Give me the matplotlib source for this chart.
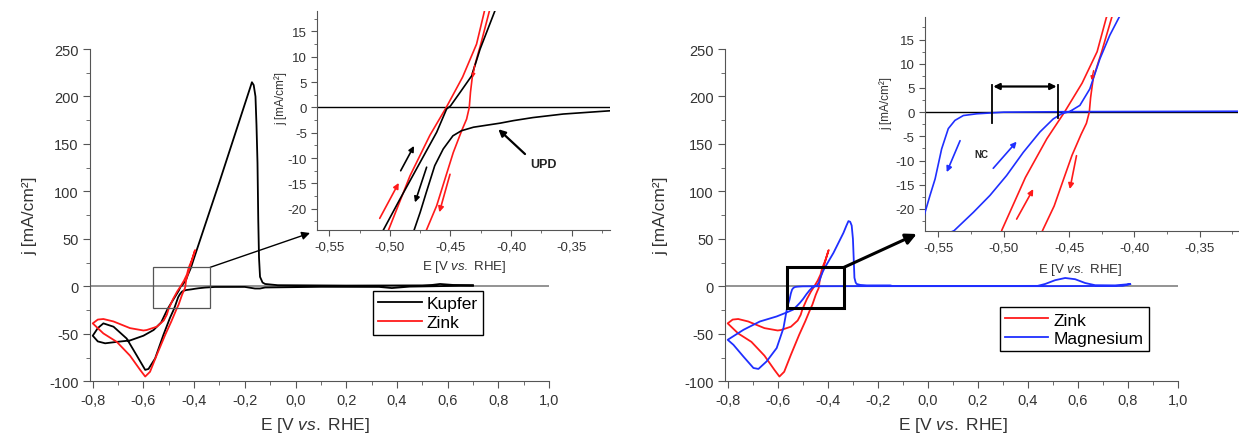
import matplotlib
matplotlib.use('Agg')
import matplotlib.pyplot as plt
from matplotlib.ticker import MultipleLocator, FuncFormatter
from matplotlib.patches import Rectangle

plt.rcParams['font.family'] = ['Liberation Sans', 'DejaVu Sans']
plt.rcParams['mathtext.fontset'] = 'custom'
plt.rcParams['mathtext.rm'] = 'Liberation Sans'
plt.rcParams['mathtext.it'] = 'Liberation Sans:italic'

# ---- data ----
# Kupfer: cathodic sweep from +0.7 V down to -0.8 V, then anodic back up
kupfer_E = [0.70, 0.45, 0.38, 0.33, 0.10, -0.12, -0.14, -0.16, -0.20, -0.3184, -0.357, -0.382,
            -0.398, -0.409, -0.420, -0.431, -0.441, -0.448, -0.456, -0.463, -0.470, -0.475, -0.480,
            -0.495, -0.521, -0.554, -0.580, -0.593, -0.626, -0.666, -0.718, -0.758, -0.780, -0.800,
            -0.780, -0.751, -0.705, -0.653, -0.600, -0.560, -0.530, -0.5054, -0.4917, -0.4752,
            -0.4614, -0.4532, -0.450, -0.442, -0.4325, -0.4256, -0.4133, -0.400, -0.350, -0.300,
            -0.250, -0.200, -0.178, -0.172, -0.165, -0.158, -0.154, -0.150, -0.147, -0.144, -0.140,
            -0.130, -0.120, -0.070, 0.20, 0.50, 0.54, 0.57, 0.62, 0.70]
kupfer_j = [0.8, -0.3, -1.8, -0.6, -0.5, -1.2, -2.3, -2.3, -0.6, -0.66, -1.3, -2.0,
            -2.6, -3.1, -3.5, -3.9, -4.6, -5.6, -8.2, -11.5, -16.8, -20.7, -24.2,
            -33, -51, -76, -87, -88, -73, -55, -42.5, -39, -44, -52,
            -58, -60, -58.5, -57, -52, -46, -38, -24.2, -18.1, -10.9,
            -4.9, -0.3, 0.3, 3.0, 6.25, 11.5, 19.1, 30, 70, 110,
            151, 192, 210, 215, 212, 200, 170, 130, 70, 30, 10,
            4.0, 2.5, 1.2, 0.8, 1.0, 1.5, 2.5, 1.5, 1.0]

# Zink: cathodic from -0.40 V down to -0.8 V, then anodic back
zink_E = [-0.398, -0.408, -0.4174, -0.425, -0.4315, -0.4335, -0.4345, -0.4367, -0.4408, -0.4477,
          -0.4545, -0.4614, -0.470, -0.490, -0.514, -0.547, -0.574, -0.593, -0.613, -0.653,
          -0.705, -0.758, -0.800, -0.780, -0.758, -0.718, -0.653, -0.600, -0.587, -0.547,
          -0.520, -0.508, -0.5013, -0.4834, -0.467, -0.4535, -0.440, -0.4285, -0.4215, -0.410,
          -0.396]
zink_j = [37, 28, 19.5, 12.5, 7.0, 3.0, 0.0, -2.3, -4.6, -8.9,
          -14.1, -19.4, -24.3, -37, -51, -72, -90, -95, -88, -73,
          -58.5, -49.6, -39, -35, -34.4, -37, -44, -46.5, -46, -42.5,
          -36, -30, -24.3, -13.5, -5.5, 0.0, 6.0, 12.5, 19.5, 27,
          38]

# Magnesium: cathodic from +0.81 V down to -0.8 V, then anodic back
mg_E = [0.81, 0.78, 0.50, 0.0, -0.30, -0.45, -0.50, -0.5207, -0.5309, -0.5373, -0.5424, -0.5475,
        -0.5525, -0.5564, -0.5602, -0.564, -0.577, -0.604, -0.644, -0.677, -0.697, -0.737,
        -0.777, -0.800, -0.737, -0.671, -0.604, -0.564, -0.538, -0.5232, -0.5105, -0.4978,
        -0.485, -0.4723, -0.4621, -0.4557, -0.4494, -0.4417, -0.4341, -0.4264, -0.4188,
        -0.4117, -0.377, -0.337, -0.325, -0.317, -0.310, -0.304, -0.299, -0.296, -0.293,
        -0.288, -0.284, -0.270, -0.244, -0.150, -0.140, 0.0, 0.44, 0.47, 0.51, 0.55, 0.59,
        0.63, 0.67, 0.75, 0.81]
mg_j = [2.4, 0.5, 0.2, 0.2, 0.2, 0.1, 0.0, -0.34, -0.7, -1.7, -3.4, -7.6,
        -13.8, -17.2, -20.7, -25, -44, -65, -79, -87, -86, -74,
        -61.6, -56.3, -45.8, -37, -31.7, -27.5, -24.5, -20.7, -17.2, -13.1,
        -8.3, -4.1, -1.4, -0.34, 0.14, 1.4, 4.8, 11.0, 15.9,
        19.6, 35.2, 56.3, 64, 68.7, 68, 64, 50, 30, 9,
        4, 2.5, 1.5, 1.0, 1.0, 0.3, 0.3, 0.5, 2.5, 6.5, 8.8, 7.5,
        3.5, 1.2, 1.0, 2.4]

main_xticks = [-0.8, -0.6, -0.4, -0.2, 0.0, 0.2, 0.4, 0.6, 0.8, 1.0]
main_yticks = [-100, -50, 0, 50, 100, 150, 200, 250]
inset_xticks = [-0.55, -0.50, -0.45, -0.40, -0.35]
inset_yticks = [-20, -15, -10, -5, 0, 5, 10, 15]

RED = '#ff1a1a'
BLUE = '#1f2fff'
TXT = '#333333'


def comma(fmt):
    def f(v, pos):
        if abs(v) < 1e-9:
            v = 0.0
        return fmt.format(v).replace('.', ',')
    return FuncFormatter(f)


def style_main(ax):
    ax.set_xlim(-0.81, 1.0)
    ax.set_ylim(-100, 250)
    for s in ['top', 'right']:
        ax.spines[s].set_visible(False)
    for s in ['left', 'bottom']:
        ax.spines[s].set_color('#555555')
    ax.set_xticks(main_xticks)
    ax.set_yticks(main_yticks)
    ax.xaxis.set_minor_locator(MultipleLocator(0.1))
    ax.yaxis.set_minor_locator(MultipleLocator(25))
    ax.xaxis.set_major_formatter(comma('{:.1f}'))
    ax.yaxis.set_major_formatter(comma('{:.0f}'))
    ax.tick_params(which='both', direction='out', colors='#555555', labelcolor=TXT, labelsize=10.5)
    ax.tick_params(which='major', length=5)
    ax.tick_params(which='minor', length=3)
    ax.axhline(0, color='#808080', lw=1.2, zorder=1)
    ax.set_xlabel(r'E [V $\it{vs.}$ RHE]', fontsize=12.5, color=TXT)
    ax.set_ylabel('j [mA/cm²]', fontsize=12.5, color=TXT)


def style_inset(ax, xlim, ylim):
    ax.set_xlim(*xlim)
    ax.set_ylim(*ylim)
    for s in ['top', 'right']:
        ax.spines[s].set_visible(False)
    for s in ['left', 'bottom']:
        ax.spines[s].set_color('#555555')
    ax.set_xticks(inset_xticks)
    ax.set_yticks(inset_yticks)
    ax.xaxis.set_minor_locator(MultipleLocator(0.025))
    ax.yaxis.set_minor_locator(MultipleLocator(2.5))
    ax.xaxis.set_major_formatter(comma('{:.2f}'))
    ax.yaxis.set_major_formatter(comma('{:.0f}'))
    ax.tick_params(which='both', direction='out', colors='#555555', labelcolor=TXT, labelsize=9.5)
    ax.tick_params(which='major', length=4)
    ax.tick_params(which='minor', length=2.5)
    ax.axhline(0, color='black', lw=1.0, zorder=1)
    ax.set_xlabel(r'E [V $\it{vs.}$ RHE]', fontsize=9.5, color=TXT)
    ax.set_ylabel('j [mA/cm²]', fontsize=8.5, color=TXT)


def arrow(ax, x0, y0, x1, y1, color, lw=1.2, ms=8):
    ax.annotate('', xy=(x1, y1), xytext=(x0, y0),
                arrowprops=dict(arrowstyle='-|>', color=color, lw=lw, mutation_scale=ms,
                                shrinkA=0, shrinkB=0))


fig = plt.figure(figsize=(12.39, 4.39), dpi=100)

# ---------- left main ----------
ax1 = fig.add_axes([0.0728, 0.1292, 0.3703, 0.7569])
style_main(ax1)
ax1.plot(kupfer_E, kupfer_j, color='black', lw=1.3, label='Kupfer', zorder=3)
ax1.plot(zink_E, zink_j, color=RED, lw=1.3, label='Zink', zorder=3)
ax1.add_patch(Rectangle((-0.5605, -23), 0.2237, 43.2, fill=False, ec='#555555', lw=0.9, zorder=4))
ax1.xaxis.set_label_coords(0.49, -0.10)
ax1.yaxis.set_label_coords(-0.115, 0.5)
ax1.legend(loc='upper left', bbox_to_anchor=(0.301, 0.335), bbox_transform=fig.transFigure,
           fontsize=12.5, frameon=True, fancybox=False, edgecolor='black', framealpha=1,
           handlelength=2.5, handletextpad=0.3, labelspacing=0.2, borderpad=0.3,
           borderaxespad=0)
ax1.get_legend().get_frame().set_linewidth(1.0)
ax1.annotate('', xy=(0.2502, 0.467), xycoords='figure fraction', xytext=(-0.337, 20),
             textcoords='data',
             arrowprops=dict(arrowstyle='-|>', color='black', lw=1.0, mutation_scale=12,
                             shrinkA=0, shrinkB=0))

# ---------- left inset ----------
ins1 = fig.add_axes([0.2561, 0.4738, 0.2362, 0.4995])
style_inset(ins1, (-0.5599, -0.3184), (-24.2, 19.1))
ins1.plot(zink_E, zink_j, color=RED, lw=1.2, zorder=3)
ins1.plot(kupfer_E, kupfer_j, color='black', lw=1.2, zorder=3)
ins1.xaxis.set_label_coords(0.5, -0.128)
ins1.yaxis.set_label_coords(-0.103, 0.606)
arrow(ins1, -0.4911, -12.5, -0.4801, -7.6, 'black')
arrow(ins1, -0.4697, -11.8, -0.4793, -18.75, 'black')
arrow(ins1, -0.5084, -21.9, -0.4927, -14.9, RED)
arrow(ins1, -0.4504, -13.2, -0.4592, -20.7, RED)
arrow(ins1, -0.4300, 8.3, -0.4317, 5.9, RED, lw=1.0, ms=5)
arrow(ins1, -0.3885, -9.2, -0.4105, -4.3, 'black', lw=1.6, ms=10)
ins1.text(-0.3734, -11.2, 'UPD', fontsize=9, fontweight='bold', color='#222222',
          ha='center', va='center')

# ---------- right main ----------
ax2 = fig.add_axes([0.5853, 0.1292, 0.3652, 0.7569])
style_main(ax2)
ax2.plot(zink_E, zink_j, color=RED, lw=1.3, label='Zink', zorder=3)
ax2.plot(mg_E, mg_j, color=BLUE, lw=1.3, label='Magnesium', zorder=3)
ax2.add_patch(Rectangle((-0.561, -22.9), 0.226, 42.9, fill=False, ec='black', lw=2.2, zorder=4))
ax2.xaxis.set_label_coords(0.503, -0.10)
ax2.yaxis.set_label_coords(-0.125, 0.5)
ax2.legend(loc='upper left', bbox_to_anchor=(0.807, 0.298), bbox_transform=fig.transFigure,
           fontsize=12.5, frameon=True, fancybox=False, edgecolor='black', framealpha=1,
           handlelength=2.5, handletextpad=0.3, labelspacing=0.2, borderpad=0.3,
           borderaxespad=0)
ax2.get_legend().get_frame().set_linewidth(1.0)
ax2.annotate('', xy=(0.7399, 0.4647), xycoords='figure fraction', xytext=(-0.335, 20),
             textcoords='data',
             arrowprops=dict(arrowstyle='-|>', color='black', lw=2.2, mutation_scale=16,
                             shrinkA=0, shrinkB=0))

# ---------- right inset ----------
ins2 = fig.add_axes([0.7466, 0.4722, 0.2526, 0.4861])
style_inset(ins2, (-0.5602, -0.3207), (-24.5, 19.6))
ins2.plot(zink_E, zink_j, color=RED, lw=1.2, zorder=3)
ins2.plot(mg_E, mg_j, color=BLUE, lw=1.2, zorder=3)
ins2.xaxis.set_label_coords(0.495, -0.143)
ins2.yaxis.set_label_coords(-0.106, 0.603)
ins2.plot([-0.5092, -0.5092], [5.66, -2.2], color='black', lw=1.3, zorder=4)
ins2.plot([-0.4583, -0.4583], [5.66, -1.24], color='black', lw=1.3, zorder=4)
ins2.annotate('', xy=(-0.508, 5.3), xytext=(-0.4595, 5.3),
              arrowprops=dict(arrowstyle='<|-|>', color='black', lw=1.6, mutation_scale=9,
                              shrinkA=0, shrinkB=0))
ins2.text(-0.5169, -8.6, 'NC', fontsize=7, fontweight='bold', color='#222222',
          ha='center', va='center')
arrow(ins2, -0.5334, -5.9, -0.5436, -12.4, BLUE)
arrow(ins2, -0.5080, -11.6, -0.4901, -6.1, BLUE)
arrow(ins2, -0.4901, -22.1, -0.4774, -15.9, RED)
arrow(ins2, -0.4443, -9.0, -0.4494, -15.9, RED)
arrow(ins2, -0.4312, 8.6, -0.4328, 6.6, RED, lw=1.0, ms=5)

fig.savefig('out.png', dpi=100)
